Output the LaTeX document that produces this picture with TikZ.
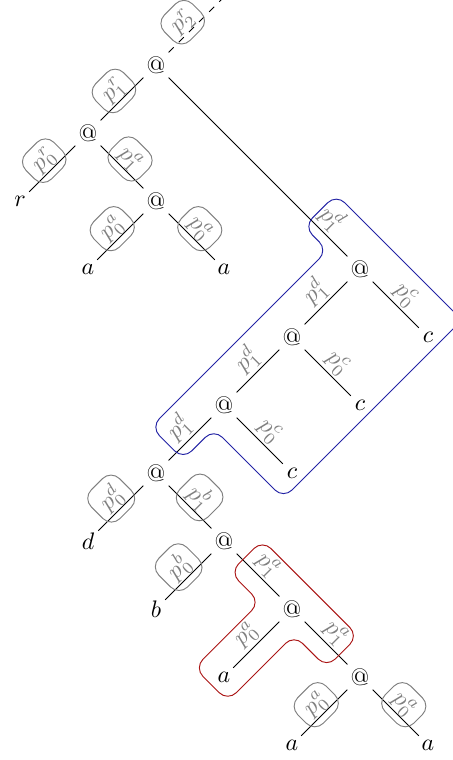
\documentclass[tikz,border=0pt]{standalone}
\usepackage{amsmath}
\usepackage{tikz}
\definecolor{regblue}{RGB}{35,35,165}
\definecolor{regred}{RGB}{170,20,20}
\tikzset{
    appnode/.style={inner sep=1.5pt},
    leaf/.style={inner sep=1.5pt},
    edgelbl/.style={midway, sloped, above, inner sep=1pt, text=gray},
    boxlbl/.style={edgelbl, solid, draw=gray, rounded corners=5pt,
                   inner xsep=3.5pt, inner ysep=3pt, above=-3pt},
    region/.style={rounded corners=5pt, thin},
}
\begin{document}
\begin{tikzpicture}
    \useasboundingbox (-2.294,-10.22) rectangle (4.353,0.956);
    % application nodes
    \node[appnode] (app0) at (0,0) {@};
    \node[appnode] (app1) at (-1,-1) {@};
    \node[appnode] (app2) at (0,-2) {@};
    \node[appnode] (app3) at (3,-3) {@};
    \node[appnode] (app4) at (2,-4) {@};
    \node[appnode] (app5) at (1,-5) {@};
    \node[appnode] (app6) at (0,-6) {@};
    \node[appnode] (app7) at (1,-7) {@};
    \node[appnode] (app8) at (2,-8) {@};
    \node[appnode] (app9) at (3,-9) {@};
    \coordinate (up) at (1,1);
    % leaves
    \node[leaf] (r) at (-2,-2) {$r$};
    \node[leaf] (a1) at (-1,-3) {$a$};
    \node[leaf] (a2) at (1,-3) {$a$};
    \node[leaf] (c1) at (4,-4) {$c$};
    \node[leaf] (c2) at (3,-5) {$c$};
    \node[leaf] (c3) at (2,-6) {$c$};
    \node[leaf] (d) at (-1,-7) {$d$};
    \node[leaf] (b) at (0,-8) {$b$};
    \node[leaf] (a3) at (1,-9) {$a$};
    \node[leaf] (a4) at (2,-10) {$a$};
    \node[leaf] (a5) at (4,-10) {$a$};
    % edges
    \draw[dashed] (app0) -- node[boxlbl, pos=0.4] {$p_2^r$} (up);
    \draw (app1) -- node[boxlbl] {$p_1^r$} (app0);
    \draw (r) -- node[boxlbl] {$p_0^r$} (app1);
    \draw (app1) -- node[boxlbl] {$p_1^a$} (app2);
    \draw (a1) -- node[boxlbl] {$p_0^a$} (app2);
    \draw (app2) -- node[boxlbl] {$p_0^a$} (a2);
    \draw (app0) -- node[edgelbl, pos=0.85] {$p_1^d$} (app3);
    \draw (app4) -- node[edgelbl] {$p_1^d$} (app3);
    \draw (app3) -- node[edgelbl] {$p_0^c$} (c1);
    \draw (app5) -- node[edgelbl] {$p_1^d$} (app4);
    \draw (app4) -- node[edgelbl] {$p_0^c$} (c2);
    \draw (app6) -- node[edgelbl] {$p_1^d$} (app5);
    \draw (app5) -- node[edgelbl] {$p_0^c$} (c3);
    \draw (d) -- node[boxlbl] {$p_0^d$} (app6);
    \draw (app6) -- node[boxlbl] {$p_1^b$} (app7);
    \draw (b) -- node[boxlbl] {$p_0^b$} (app7);
    \draw (app7) -- node[edgelbl] {$p_1^a$} (app8);
    \draw (a3) -- node[edgelbl] {$p_0^a$} (app8);
    \draw (app8) -- node[edgelbl] {$p_1^a$} (app9);
    \draw (a4) -- node[boxlbl] {$p_0^a$} (app9);
    \draw (app9) -- node[boxlbl] {$p_0^a$} (a5);
    % shared regions
    \draw[region, regblue] (2.65,-1.9) -- (4.5,-3.75) -- (1.875,-6.375)
        -- (0.85,-5.35) -- (0.4,-5.8) -- (-0.075,-5.325)
        -- (2.525,-2.725) -- (2.175,-2.375) -- cycle;
    \draw[region, regred] (1.565,-6.985) -- (2.975,-8.395) -- (2.51,-8.86)
        -- (2.03,-8.38) -- (1.055,-9.355) -- (0.565,-8.865)
        -- (1.53,-7.9) -- (1.09,-7.46) -- cycle;
\end{tikzpicture}
\end{document}
